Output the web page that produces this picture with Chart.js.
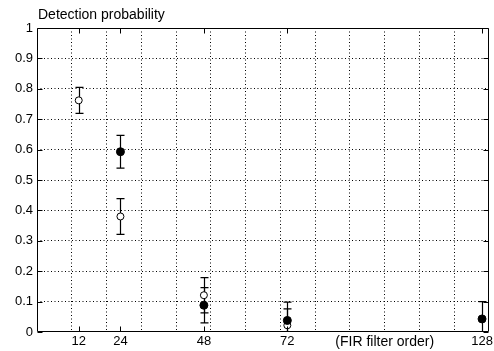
<!DOCTYPE html>
<html><head><meta charset="utf-8">
<script src="https://cdn.jsdelivr.net/npm/chart.js@4/dist/chart.umd.min.js"></script>
<style>html,body{margin:0;padding:0;background:#fff;overflow:hidden}#wrap{width:494px;height:351px;position:relative}</style>
</head><body><div id="wrap"><canvas id="c" width="494" height="351"></canvas></div>
<script>
// ---- data ----
const yAxisTitle = "Detection probability";
const xAxisName = "(FIR filter order)";
const xNameAt = 100;
const xTickValues = [12, 24, 48, 72, 128];
const xTickLabels = ["12", "24", "48", "72", "128"];
const xGridValues = [10, 20, 30, 40, 50, 60, 70, 80, 90, 100, 110, 120];
const yTickValues = [0, 0.1, 0.2, 0.3, 0.4, 0.5, 0.6, 0.7, 0.8, 0.9, 1];
const yTickLabels = ["0", "0.1", "0.2", "0.3", "0.4", "0.5", "0.6", "0.7", "0.8", "0.9", "1"];
const openX = [12, 24, 48, 72];
const openY = [0.762, 0.38, 0.121, 0.022];
const openErr = [0.043, 0.059, 0.058, 0.054];
const filledX = [24, 48, 72, 128];
const filledY = [0.593, 0.088, 0.038, 0.043];
const filledErr = [0.054, 0.058, 0.06, 0.057];

const FONT = "'Liberation Sans', Arial, Helvetica, sans-serif";
const X_MIN = 0, X_MAX = 130;

const gridStyle = (vals) => (c) => {
  if (!c.tick) return 'rgba(0,0,0,0)';
  const v = c.tick.value;
  return vals.some(g => Math.abs(g - v) < 1e-9) ? '#000' : 'rgba(0,0,0,0)';
};

const errorBars = {
  id: 'errorBars',
  beforeDatasetsDraw(chart) {
    const {ctx, chartArea: a, scales: {x, y}} = chart;
    const series = [[openX, openY, openErr], [filledX, filledY, filledErr]];
    ctx.save();
    ctx.beginPath(); ctx.rect(a.left, a.top, a.right - a.left, a.bottom - a.top); ctx.clip();
    ctx.strokeStyle = '#000'; ctx.lineWidth = 1.2;
    series.forEach(([xs, ys, es]) => {
      xs.forEach((xv, i) => {
        const px = Math.round(x.getPixelForValue(xv)) + 0.5;
        const t = y.getPixelForValue(ys[i] + es[i]);
        const b = y.getPixelForValue(ys[i] - es[i]);
        ctx.beginPath();
        ctx.moveTo(px, t); ctx.lineTo(px, b);
        ctx.moveTo(px - 4, t); ctx.lineTo(px + 4, t);
        ctx.moveTo(px - 4, b); ctx.lineTo(px + 4, b);
        ctx.stroke();
      });
    });
    ctx.restore();
  }
};

const frame = {
  id: 'frame',
  afterDraw(chart) {
    const {ctx, chartArea: a, scales: {x, y}} = chart;
    ctx.save();
    ctx.strokeStyle = '#000'; ctx.lineWidth = 1;
    const L = Math.round(a.left) + 0.5, R = Math.round(a.right) - 0.5;
    const T = Math.round(a.top) + 0.5, B = Math.round(a.bottom) - 0.5;
    ctx.beginPath();
    ctx.rect(L, T, R - L, B - T);
    const tl = 5;
    xTickValues.forEach(v => {
      const px = Math.round(x.getPixelForValue(v)) + 0.5;
      ctx.moveTo(px, B); ctx.lineTo(px, B - tl);
      ctx.moveTo(px, T); ctx.lineTo(px, T + tl);
    });
    yTickValues.forEach(v => {
      const py = Math.round(y.getPixelForValue(v)) + 0.5;
      ctx.moveTo(L, py); ctx.lineTo(L + tl, py);
      ctx.moveTo(R, py); ctx.lineTo(R - tl, py);
    });
    ctx.stroke();
    ctx.fillStyle = '#000';
    ctx.font = '14px ' + FONT;
    ctx.textAlign = 'left'; ctx.textBaseline = 'alphabetic';
    ctx.fillText(yAxisTitle, a.left + 1, 19);
    ctx.restore();
  }
};

const allXTicks = [...new Set([X_MIN, X_MAX, ...xGridValues, ...xTickValues])].sort((a, b) => a - b);

new Chart(document.getElementById('c'), {
  type: 'scatter',
  data: {
    datasets: [
      {
        label: 'filled',
        data: filledX.map((v, i) => ({x: v, y: filledY[i]})),
        pointRadius: 4, pointBackgroundColor: '#000', pointBorderColor: '#000', pointBorderWidth: 1,
        showLine: false
      },
      {
        label: 'open',
        data: openX.map((v, i) => ({x: v, y: openY[i]})),
        pointRadius: 3.5, pointBackgroundColor: '#fff', pointBorderColor: '#000', pointBorderWidth: 1,
        showLine: false
      }
    ]
  },
  options: {
    responsive: false, animation: false, events: [],
    layout: {padding: {top: 28, right: 1, left: 0, bottom: 0}},
    plugins: {legend: {display: false}, tooltip: {enabled: false}, title: {display: false}},
    scales: {
      x: {
        type: 'linear', min: X_MIN, max: X_MAX,
        afterBuildTicks: s => { s.ticks = allXTicks.map(v => ({value: v})); },
        afterFit: s => { s.height = 19; s.paddingLeft = 0; s.paddingRight = 0; },
        grid: {color: gridStyle(xGridValues), lineWidth: 1, drawTicks: false},
        border: {display: false, dash: [1, 2.5]},
        ticks: {
          autoSkip: false, maxRotation: 0, minRotation: 0, padding: 2, color: '#000',
          font: (c) => ({family: FONT, size: (c.tick && c.tick.value === xNameAt) ? 14 : 13}),
          callback: (v) => {
            const i = xTickValues.indexOf(v);
            if (i >= 0) return xTickLabels[i];
            if (v === xNameAt) return xAxisName;
            return '';
          }
        }
      },
      y: {
        type: 'linear', min: 0, max: 1,
        afterBuildTicks: s => { s.ticks = yTickValues.map(v => ({value: v})); },
        afterFit: s => { s.width = 37; s.paddingTop = 0; s.paddingBottom = 0; },
        grid: {color: gridStyle(yTickValues.slice(1, -1)), lineWidth: 1, drawTicks: false},
        border: {display: false, dash: [1, 2.5]},
        ticks: {
          padding: 4, color: '#000', font: {family: FONT, size: 13},
          callback: (v) => {
            const i = yTickValues.findIndex(t => Math.abs(t - v) < 1e-9);
            return i >= 0 ? yTickLabels[i] : '';
          }
        }
      }
    }
  },
  plugins: [errorBars, frame]
});
</script>
</body></html>
